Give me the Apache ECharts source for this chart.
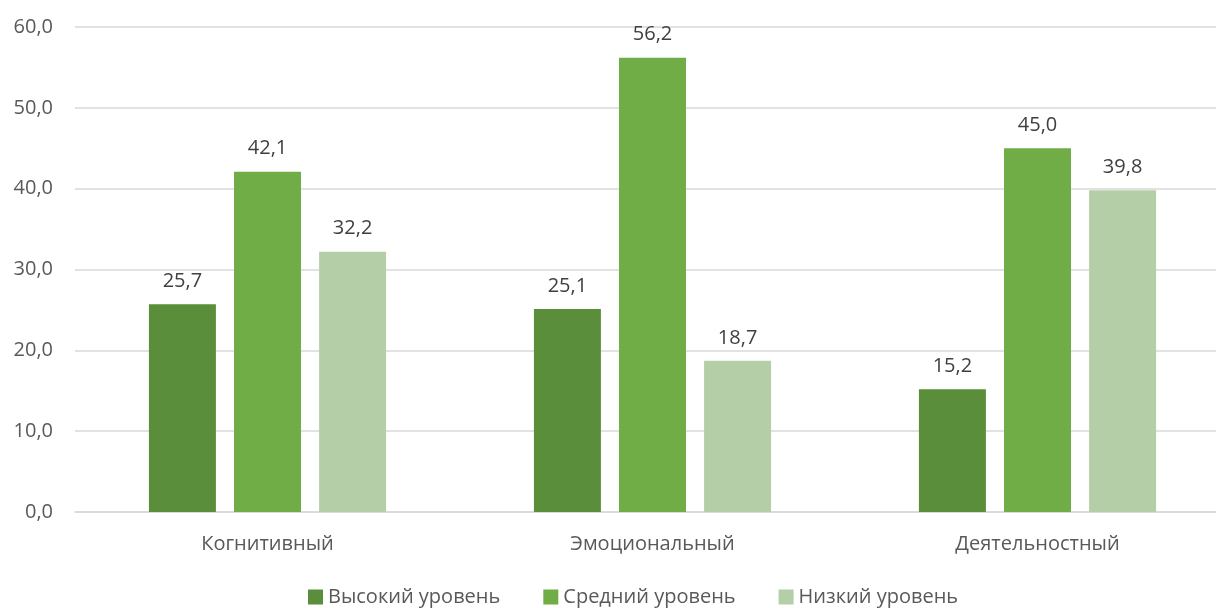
<!DOCTYPE html>
<html><head><meta charset="utf-8">
<script src="https://cdn.jsdelivr.net/npm/echarts@6/dist/echarts.min.js"></script>
<style>html,body{margin:0;padding:0;background:#fff}#c{width:1216px;height:608px}</style>
</head><body><div id="c"></div>
<script>
const categories = ['Когнитивный', 'Эмоциональный', 'Деятельностный'];
const seriesNames = ['Высокий уровень', 'Средний уровень', 'Низкий уровень'];
const high = [25.7, 25.1, 15.2];
const mid = [42.1, 56.2, 45.0];
const low = [32.2, 18.7, 39.8];
const yTicks = [0, 10, 20, 30, 40, 50, 60];
const colors = ['#5B8E3A', '#70AD47', '#B4CFA7'];
const font = '"Open Sans", "Noto Sans", sans-serif';
const chart = echarts.init(document.getElementById('c'));
const fmt = v => v.toFixed(1).replace('.', ',');
const mk = (name, data, i) => ({
  name, type: 'bar', data, barWidth: 67, barGap: '27%',
  itemStyle: { color: colors[i] },
  label: { show: true, position: 'top', distance: 13, color: '#404040', fontSize: 20, fontFamily: font,
    formatter: p => fmt(p.value) }
});
chart.setOption({
  animation: false,
  color: colors,
  grid: { left: 75, width: 1155, top: 27, height: 485, containLabel: false, outerBoundsMode: 'none' },
  legend: { left: 303, top: 582, itemWidth: 15, itemHeight: 15, itemGap: 43, icon: 'rect',
    textStyle: { color: '#595959', fontSize: 20, fontFamily: font } },
  xAxis: { type: 'category', data: categories,
    axisLine: { lineStyle: { color: '#D9D9D9', width: 1.5 } }, axisTick: { show: false },
    axisLabel: { color: '#595959', fontSize: 20, fontFamily: font, margin: 22 } },
  yAxis: { type: 'value', min: yTicks[0], max: yTicks[yTicks.length - 1], interval: 10,
    axisLine: { show: false }, axisTick: { show: false },
    splitLine: { lineStyle: { color: '#D9D9D9', width: 1.5 } },
    axisLabel: { color: '#595959', fontSize: 20, fontFamily: font, margin: 22, formatter: v => fmt(v) } },
  series: [mk(seriesNames[0], high, 0), mk(seriesNames[1], mid, 1), mk(seriesNames[2], low, 2)]
});
</script></body></html>
